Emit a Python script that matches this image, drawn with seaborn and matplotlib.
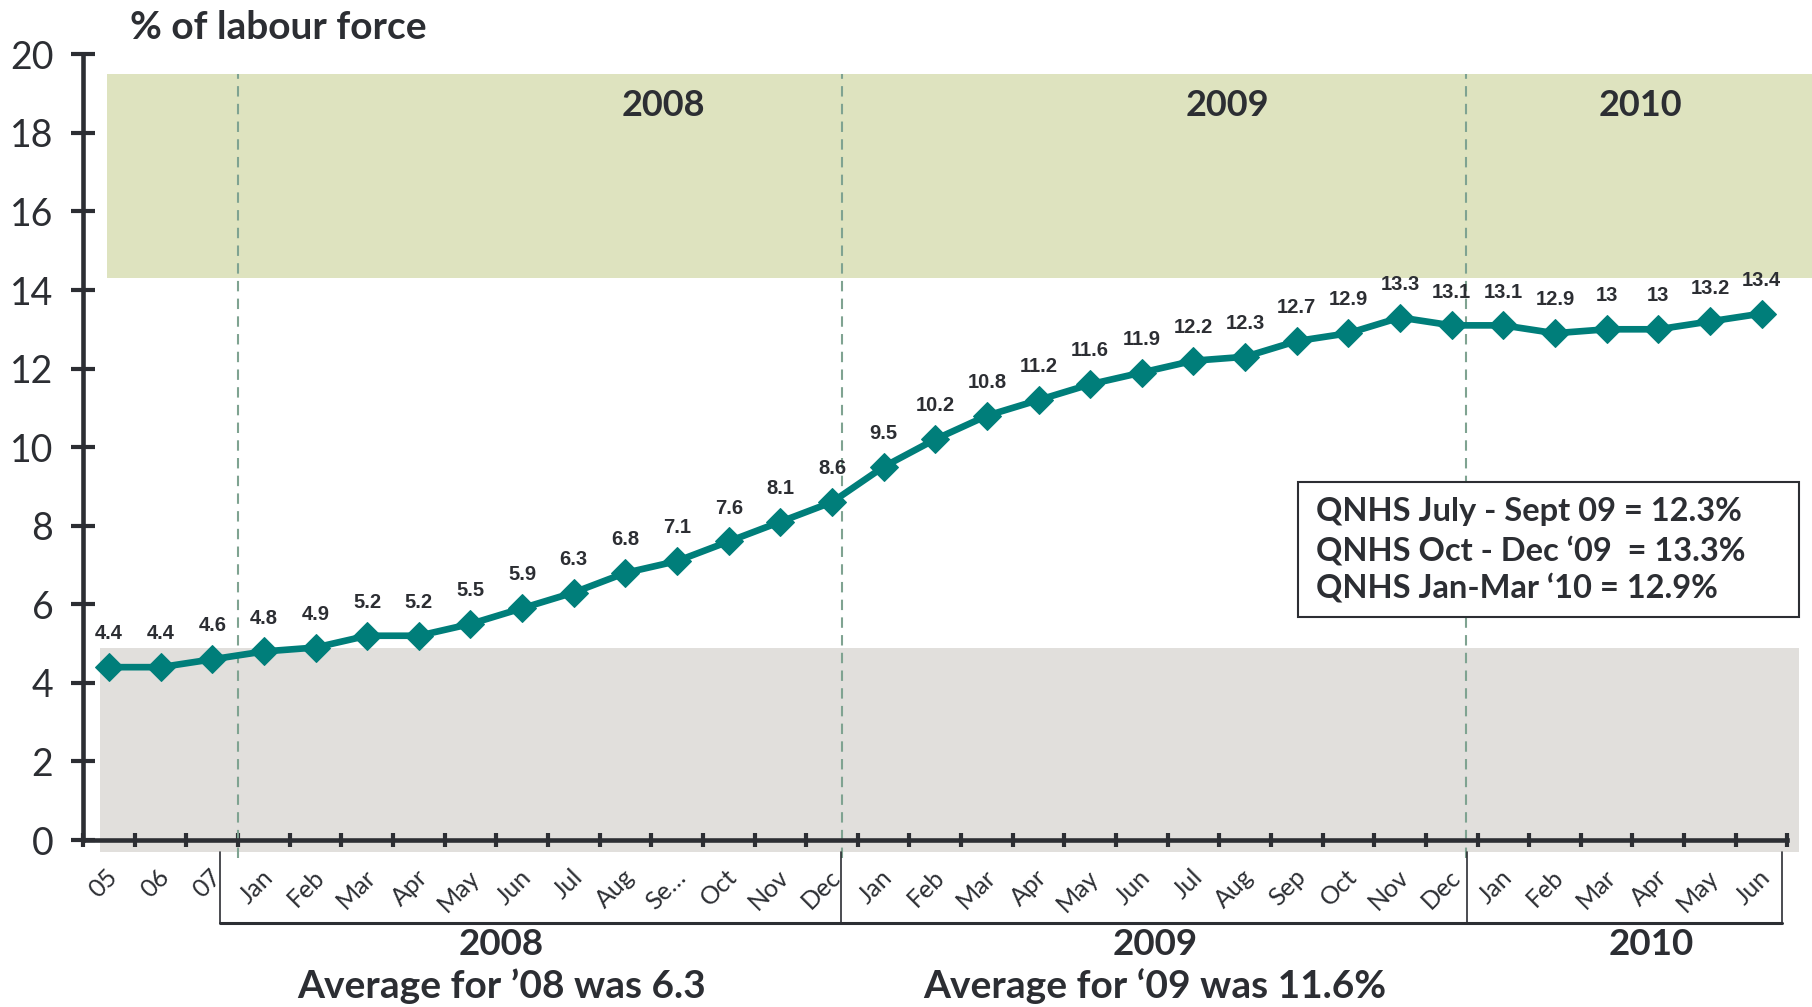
import numpy as np
import pandas as pd
import seaborn as sns
import matplotlib.pyplot as plt
from matplotlib.patches import Rectangle
from matplotlib.transforms import ScaledTranslation

# monthly unemployment rate, % of labour force
month_labels = ['05', '06', '07',
                'Jan', 'Feb', 'Mar', 'Apr', 'May', 'Jun', 'Jul', 'Aug', 'Se\u2026', 'Oct', 'Nov', 'Dec',
                'Jan', 'Feb', 'Mar', 'Apr', 'May', 'Jun', 'Jul', 'Aug', 'Sep', 'Oct', 'Nov', 'Dec',
                'Jan', 'Feb', 'Mar', 'Apr', 'May', 'Jun']
rate = [4.4, 4.4, 4.6,
        4.8, 4.9, 5.2, 5.2, 5.5, 5.9, 6.3, 6.8, 7.1, 7.6, 8.1, 8.6,
        9.5, 10.2, 10.8, 11.2, 11.6, 11.9, 12.2, 12.3, 12.7, 12.9, 13.3, 13.1,
        13.1, 12.9, 13, 13, 13.2, 13.4]
rate_labels = ['4.4', '4.4', '4.6',
               '4.8', '4.9', '5.2', '5.2', '5.5', '5.9', '6.3', '6.8', '7.1', '7.6', '8.1', '8.6',
               '9.5', '10.2', '10.8', '11.2', '11.6', '11.9', '12.2', '12.3', '12.7', '12.9', '13.3', '13.1',
               '13.1', '12.9', '13', '13', '13.2', '13.4']
years = ['2008', '2009', '2010']
year_averages = ['Average for \u201908 was 6.3', 'Average for \u201809 was 11.6%']
qnhs_notes = ['QNHS July - Sept 09 = 12.3%',
              'QNHS Oct - Dec \u201809  = 13.3%',
              'QNHS Jan-Mar \u201810 = 12.9%']

df = pd.DataFrame({'pos': np.arange(len(rate)), 'rate': rate})

sns.set_style('white')
plt.rcParams['font.family'] = ['Lato', 'DejaVu Sans']

TEAL = '#007E7A'
DARK = '#2C2E33'
GREEN = '#DEE3BF'
GREY = '#E1DFDC'
DASH = '#7FA391'

fig = plt.figure(figsize=(18.12, 10.07), dpi=100)
ax = fig.add_axes([0.0459, 0.1658, 0.9405, 0.7803])

# background bands
ax.add_patch(Rectangle((-0.04, 14.3), 34, 5.2, facecolor=GREEN, edgecolor='none', zorder=0, clip_on=False))
ax.add_patch(Rectangle((-0.17, -0.3), 32.9, 5.18, facecolor=GREY, edgecolor='none', zorder=0, clip_on=False))

# year separators
for xv in [2.5, 14.2, 26.28]:
    ax.plot([xv, xv], [-0.45, 19.5], color=DASH, lw=1.5, dashes=(5, 3.5), zorder=1, clip_on=False)

sns.lineplot(data=df, x='pos', y='rate', ax=ax, color=TEAL, linewidth=4.8,
             marker='D', markersize=14, markeredgecolor=TEAL, zorder=3)

for xi, yi, lab in zip(df['pos'], df['rate'], rate_labels):
    ax.annotate(lab, (xi, yi), xytext=(0, 24), textcoords='offset points',
                ha='center', va='center', fontsize=14.5, fontweight='bold',
                family='Liberation Sans', color=DARK, zorder=4)

ax.set_xlim(-0.5, 32.5)
ax.set_ylim(0, 20)
ax.set_xlabel('')
ax.set_ylabel('')

ax.set_yticks(range(0, 21, 2))
ax.tick_params(axis='y', left=True, direction='inout', length=17, width=3, colors=DARK,
               labelsize=27, pad=13)

ax.set_xticks(df['pos'])
ax.set_xticklabels(month_labels, rotation=45, ha='right', va='center', rotation_mode='anchor',
                   fontsize=18, color=DARK)
ax.set_xticks(np.arange(-0.5, 33, 1), minor=True)
ax.tick_params(axis='x', which='major', bottom=True, length=0, pad=24)
ax.tick_params(axis='x', which='minor', bottom=True, direction='inout', length=10, width=3, color=DARK)
shift = ScaledTranslation(5 / 100, 0, fig.dpi_scale_trans)
for lab in ax.get_xticklabels():
    lab.set_transform(lab.get_transform() + shift)

for side in ['top', 'right']:
    ax.spines[side].set_visible(False)
for side in ['left', 'bottom']:
    ax.spines[side].set_linewidth(3.3)
    ax.spines[side].set_color(DARK)
ax.spines['left'].set_bounds(0, 20)

fig.text(0.0717, 0.973, '% of labour force', fontsize=28, fontweight='bold', color=DARK,
         ha='left', va='center')

# year names in the green band
for xv, yr in zip([10.74, 21.66, 29.65], years):
    ax.text(xv, 18.7, yr, ha='center', va='center', fontsize=26, fontweight='bold', color=DARK)

# brackets under the month labels
for xv in [2.15, 14.17, 26.3, 32.4]:
    ax.plot([xv, xv], [-0.3, -2.1], color=DARK, lw=1.2, clip_on=False)
ax.plot([2.15, 32.4], [-2.1, -2.1], color=DARK, lw=2.2, clip_on=False)

for xv, yr in zip([7.6, 20.25, 29.87], years):
    ax.text(xv, -2.65, yr, ha='center', va='center', fontsize=26.5, fontweight='bold', color=DARK)
for xv, txt in zip([7.6, 20.25], year_averages):
    ax.text(xv, -3.71, txt, ha='center', va='center', fontsize=28, fontweight='bold', color=DARK)

# QNHS note box
ax.add_patch(Rectangle((23.03, 5.67), 9.7, 3.44, facecolor='white', edgecolor=DARK, lw=1.5,
                       zorder=5, clip_on=False))
for yv, txt in zip([8.35, 7.38, 6.44], qnhs_notes):
    ax.text(23.38, yv, txt, ha='left', va='center', fontsize=23.5, fontweight='bold', color=DARK, zorder=6)

fig.savefig('out.png', dpi=100)
